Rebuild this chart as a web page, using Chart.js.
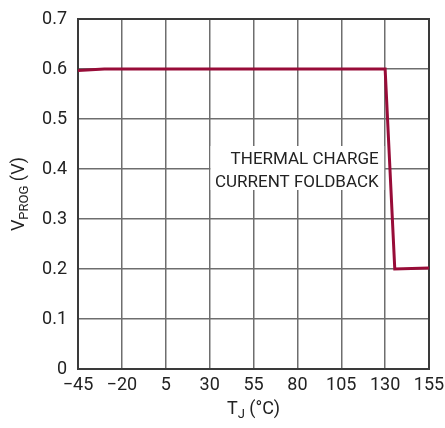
<!DOCTYPE html>
<html>
<head>
<meta charset="utf-8">
<script src="https://cdn.jsdelivr.net/npm/chart.js@4"></script>
<style>
  html, body { margin: 0; padding: 0; background: #fff; }
  #wrap { width: 445px; height: 428px; }
</style>
</head>
<body>
<div id="wrap"><canvas id="c" width="445" height="428"></canvas></div>
<script>
// --- dados ---
const tempC = [-45, -30, 130, 135.5, 155];
const vProg = [0.597, 0.6, 0.6, 0.2, 0.202];
const xTicks = [-45, -20, 5, 30, 55, 80, 105, 130, 155];
const yTicks = [0, 0.1, 0.2, 0.3, 0.4, 0.5, 0.6, 0.7];
const noteLines = ['THERMAL CHARGE', 'CURRENT FOLDBACK'];

const FONT = 'Roboto, "Liberation Sans", Arial, sans-serif';
const GRID = '#6e6e6e';
const FRAME = '#3a3a3a';

// caixa de texto + títulos com subscrito
const extras = {
    id: 'extras',
    beforeDatasetsDraw(chart) {
        const { ctx, chartArea: a, scales: { x, y } } = chart;
        ctx.save();
        // caixa branca atrás da nota
        const left = x.getPixelForValue(30.5), right = x.getPixelForValue(129.5);
        const top = y.getPixelForValue(0.446), bot = y.getPixelForValue(0.358);
        ctx.fillStyle = '#fff';
        ctx.fillRect(left, top, right - left, bot - top);
        ctx.fillStyle = '#222';
        ctx.font = '17px ' + FONT;
        ctx.textAlign = 'right';
        ctx.textBaseline = 'middle';
        const tx = x.getPixelForValue(126.3);
        ctx.fillText(noteLines[0], tx, y.getPixelForValue(0.419));
        ctx.fillText(noteLines[1], tx, y.getPixelForValue(0.373));
        // moldura
        ctx.strokeStyle = FRAME;
        ctx.lineWidth = 2;
        ctx.strokeRect(a.left, a.top, a.right - a.left, a.bottom - a.top);
        ctx.restore();
    },
    afterDraw(chart) {
        const { ctx, chartArea: a } = chart;
        ctx.save();
        ctx.fillStyle = '#222';
        ctx.textBaseline = 'alphabetic';
        // eixo x: T_J (°C)
        const cx = (a.left + a.right) / 2;
        const by = 414;
        ctx.font = '18px ' + FONT;
        const wT = ctx.measureText('T').width;
        ctx.font = '13px ' + FONT;
        const wJ = ctx.measureText('J').width;
        ctx.font = '18px ' + FONT;
        const wR = ctx.measureText(' (°C)').width;
        let sx = cx - (wT + wJ + wR) / 2;
        ctx.textAlign = 'left';
        ctx.fillText('T', sx, by);
        ctx.font = '13px ' + FONT;
        ctx.fillText('J', sx + wT, by + 4);
        ctx.font = '18px ' + FONT;
        ctx.fillText(' (°C)', sx + wT + wJ, by);
        // eixo y: V_PROG (V)
        ctx.translate(24, (a.top + a.bottom) / 2);
        ctx.rotate(-Math.PI / 2);
        const wV = ctx.measureText('V').width;
        ctx.font = '13px ' + FONT;
        const wP = ctx.measureText('PROG').width;
        ctx.font = '18px ' + FONT;
        const wU = ctx.measureText(' (V)').width;
        sx = -(wV + wP + wU) / 2;
        ctx.fillText('V', sx, 0);
        ctx.font = '13px ' + FONT;
        ctx.fillText('PROG', sx + wV, 4);
        ctx.font = '18px ' + FONT;
        ctx.fillText(' (V)', sx + wV + wP, 0);
        ctx.restore();
    }
};

new Chart(document.getElementById('c').getContext('2d'), {
    type: 'scatter',
    data: {
        datasets: [{
            data: tempC.map((t, i) => ({ x: t, y: vProg[i] })),
            showLine: true,
            borderColor: '#980c38',
            borderWidth: 3,
            pointRadius: 0,
            tension: 0
        }]
    },
    options: {
        responsive: false,
        animation: false,
        layout: { padding: { left: 0, right: 0, top: 19, bottom: 0 } },
        plugins: { legend: { display: false }, tooltip: { enabled: false } },
        scales: {
            x: {
                type: 'linear',
                min: -45, max: 155,
                afterBuildTicks: s => { s.ticks = xTicks.map(v => ({ value: v })); },
                afterFit: s => { s.height = 59; s.paddingLeft = 0; s.paddingRight = 16; },
                grid: { color: GRID, lineWidth: 1.5, drawTicks: false },
                border: { color: FRAME, width: 2 },
                ticks: {
                    color: '#222', padding: 6,
                    font: { family: FONT, size: 18 },
                    maxRotation: 0, autoSkip: false,
                    callback: v => String(v).replace('-', '\u2212')
                }
            },
            y: {
                min: 0, max: 0.7,
                afterBuildTicks: s => { s.ticks = yTicks.map(v => ({ value: v })); },
                afterFit: s => { s.width = 78; s.paddingTop = 0; s.paddingBottom = 0; },
                grid: { color: GRID, lineWidth: 1.5, drawTicks: false },
                border: { color: FRAME, width: 2 },
                ticks: {
                    color: '#222', padding: 11,
                    font: { family: FONT, size: 18 },
                    callback: v => v === 0 ? '0' : v.toFixed(1)
                }
            }
        }
    },
    plugins: [extras]
});
</script>
</body>
</html>
